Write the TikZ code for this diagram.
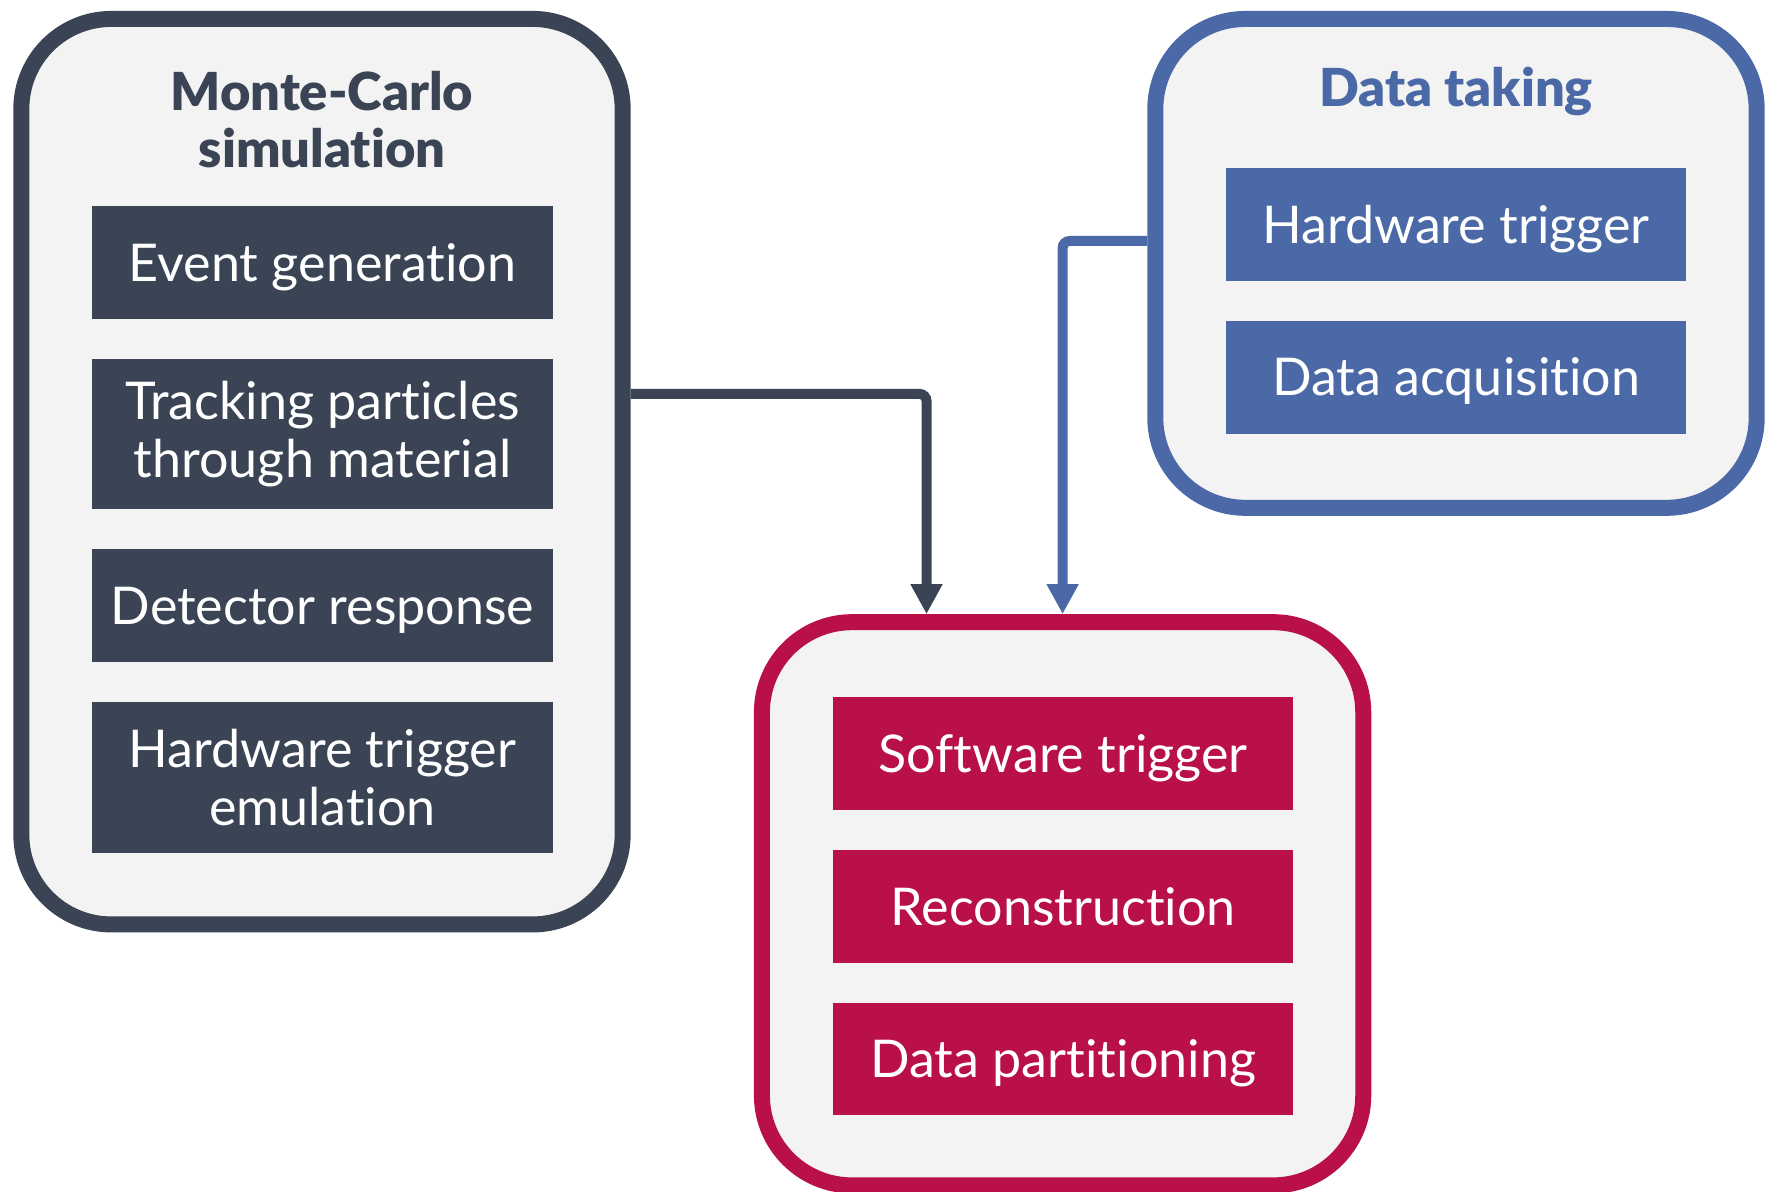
\documentclass[tikz,border=0pt]{standalone}
\usepackage{fontspec}
\setmainfont{Lato}[Ligatures=NoCommon]
\newfontfamily\headfont{Lato}[Ligatures=NoCommon,UprightFont=* Black]
\usetikzlibrary{positioning,arrows.meta}
\definecolor{mcgrey}{RGB}{59,68,85}
\definecolor{dtblue}{RGB}{74,105,166}
\definecolor{prred}{RGB}{184,16,71}
\definecolor{panel}{RGB}{242,243,242}

\begin{document}
\begin{tikzpicture}[
                x=0.01cm, y=-0.01cm,
                node distance=0.385cm,
                group/.style={draw=#1,fill=panel,line width=0.16cm,rounded corners=0.9cm,minimum width=6.01cm},
                task/.style={fill=#1,text=white,minimum width=4.6cm,minimum height=1.126cm,inner sep=0pt,align=center,font=\fontsize{14.8}{16.5}\selectfont},
                oneline/.style={text height=10.7pt,text depth=0pt},
                tall/.style={minimum height=1.508cm},
                heading/.style={text=#1,align=center,font=\fontsize{14.9}{16.3}\selectfont\headfont},
                flow/.style={color=#1,line width=0.1cm,rounded corners=2pt,-{Triangle[length=0.3cm,width=0.3cm]}}
            ]
                \useasboundingbox (0,0) rectangle (1765,1192);
                % the three groups
                \node (mc) [group=mcgrey,minimum height=9.05cm] at (322,471.7) {};
                \node (dt) [group=dtblue,minimum height=4.886cm] at (1456,263.4) {};
                \node (pr) [group=prred,minimum height=5.629cm] at (1062.6,903.8) {};
                % Monte-Carlo
                \node (mctitle) [heading=mcgrey] at (322,119.7) {Monte-Carlo\\simulation};
                \node (evgen) [task=mcgrey,oneline] at (322.5,262.3) {Event generation};
                \node (track) [task=mcgrey,tall,below=of evgen] {Tracking particles\\through material};
                \node (detresp) [task=mcgrey,oneline,below=of track] {Detector response};
                \node (hwemu) [task=mcgrey,tall,below=of detresp] {Hardware trigger\\emulation};
                % data taking
                \node (dttitle) [heading=dtblue] at (1456,91.5) {Data taking};
                \node (hwtrig) [task=dtblue,oneline] at (1456.1,224.6) {Hardware trigger};
                \node (daq) [task=dtblue,oneline,below=of hwtrig] {Data acquisition};
                % processing
                \node (swtrig) [task=prred,oneline] at (1063.2,753.7) {Software trigger};
                \node (reco) [task=prred,oneline,below=of swtrig] {Reconstruction};
                \node (datapart) [task=prred,oneline,below=of reco] {Data partitioning};
                % connectors
                \draw[flow=mcgrey] ([yshift=0.777cm]mc.east) -| ([xshift=-1.36cm]pr.north);
                \draw[flow=dtblue] ([yshift=0.224cm]dt.west) -| (pr.north);
            \end{tikzpicture}
\end{document}
